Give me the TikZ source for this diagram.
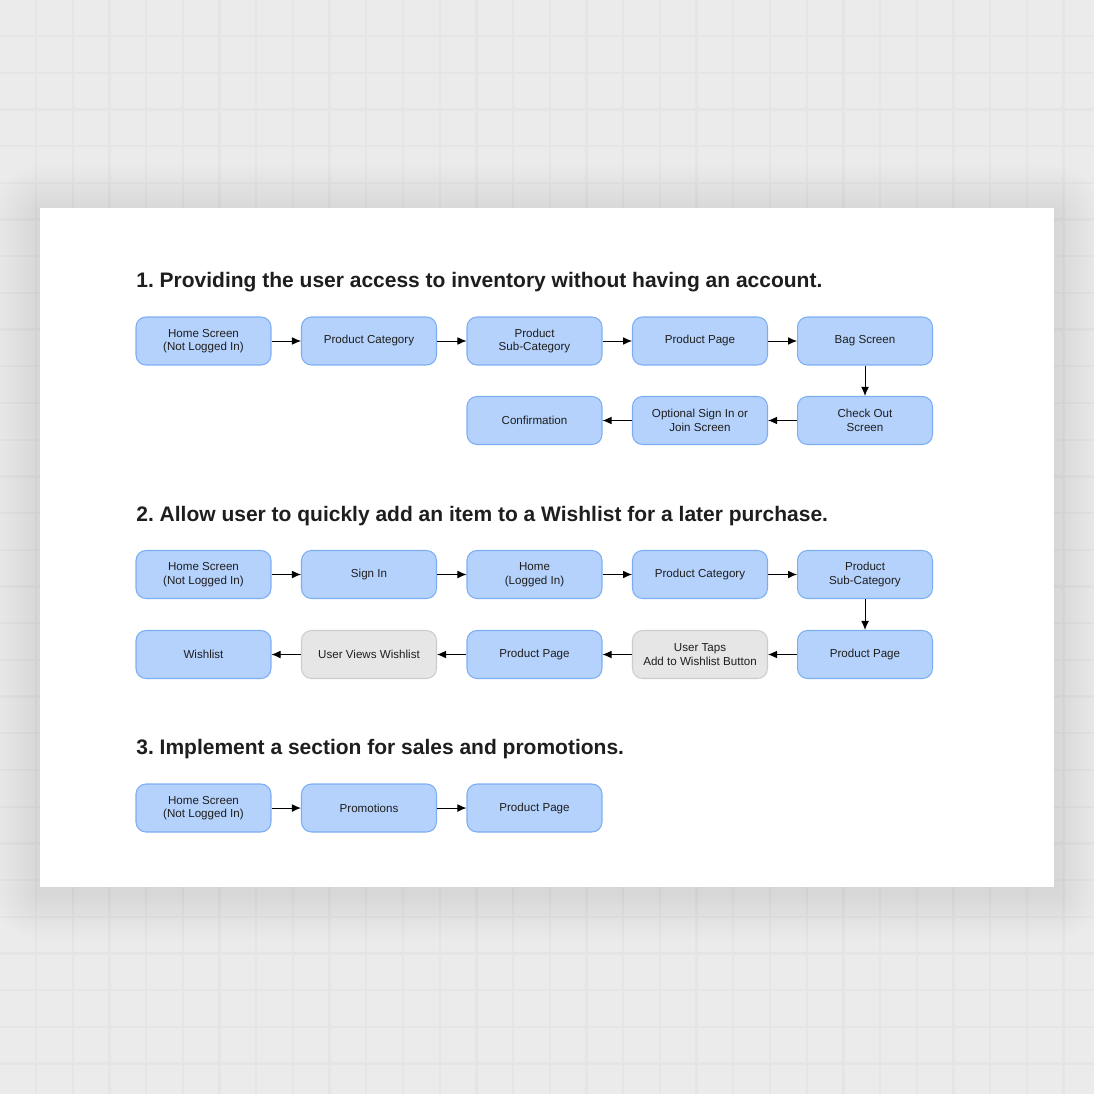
\documentclass[tikz,border=0pt]{standalone}
\usepackage{fontspec}
\setmainfont{Liberation Sans}
\usetikzlibrary{arrows.meta,positioning}
\definecolor{bgc}{HTML}{EBEBEB}
\definecolor{gridc}{HTML}{E5E5E5}
\definecolor{bluef}{HTML}{B5D2FC}
\definecolor{blued}{HTML}{7DAEF3}
\definecolor{greyf}{HTML}{E6E6E6}
\definecolor{greyd}{HTML}{CDCDCD}
\definecolor{txt}{HTML}{1E1E1E}
\tikzset{
  box/.style={draw=blued, fill=bluef, line width=0.6pt, rounded corners=0.2cm,
    minimum width=2.7cm, minimum height=0.96cm, inner sep=0pt, align=center,
    font=\fontsize{6.6}{7.7}\selectfont, text=txt},
  gbox/.style={box, draw=greyd, fill=greyf},
  heading/.style={anchor=west, font=\frenchspacing\fontsize{11.95}{13}\selectfont\bfseries, text=txt, inner sep=0pt},
  conn/.style={draw=black, line width=0.55pt, -{Latex[length=0.18cm,width=0.155cm]}},
}
\begin{document}
\begin{tikzpicture}[x=0.02cm,y=-0.02cm]
\useasboundingbox (0,0) rectangle (1094,1094);
\fill[bgc] (0,0) rectangle (1094,1094);
\foreach \i in {0,...,30} {
  \draw[gridc, line width=1.3pt] ({-0.7+36.7*\i},0) -- ({-0.7+36.7*\i},1094);
  \draw[gridc, line width=1.3pt] (0,{-0.7+36.7*\i}) -- (1094,{-0.7+36.7*\i});
}
\foreach \k in {1,...,20} {
  \fill[black, opacity=0.0028, rounded corners={\k*2.5*0.02cm}] ({40-\k*2.4},{208-\k*2.4+5}) rectangle ({1054+\k*2.4},{887+\k*2.4+5});
}
\fill[white] (40,208) rectangle (1054,887);

% headings
\node[heading] (h1) at (136,282) {1. Providing the user access to inventory without having an account.};
\node[heading] (h2) at (136,516) {2. Allow user to quickly add an item to a Wishlist for a later purchase.};
\node[heading] (h3) at (136,749) {3. Implement a section for sales and promotions.};

% flow 1
\node[box] (a1) at (203.5,341) {Home Screen\\(Not Logged In)};
\node[box] (a2) at (369,341) {Product Category};
\node[box] (a3) at (534.5,341) {Product\\Sub-Category};
\node[box] (a4) at (700,341) {Product Page};
\node[box] (a5) at (865,341) {Bag Screen};
\node[box] (a6) at (865,420.5) {Check Out\\Screen};
\node[box] (a7) at (700,420.5) {Optional Sign In or\\Join Screen};
\node[box] (a8) at (534.5,420.5) {Confirmation};
\draw[conn] (a1) -- (a2);
\draw[conn] (a2) -- (a3);
\draw[conn] (a3) -- (a4);
\draw[conn] (a4) -- (a5);
\draw[conn] (a5) -- (a6);
\draw[conn] (a6) -- (a7);
\draw[conn] (a7) -- (a8);

% flow 2
\node[box] (b1) at (203.5,574.5) {Home Screen\\(Not Logged In)};
\node[box] (b2) at (369,574.5) {Sign In};
\node[box] (b3) at (534.5,574.5) {Home\\(Logged In)};
\node[box] (b4) at (700,574.5) {Product Category};
\node[box] (b5) at (865,574.5) {Product\\Sub-Category};
\node[box] (b6) at (865,654.5) {Product Page};
\node[gbox] (b7) at (700,654.5) {User Taps\\Add to Wishlist Button};
\node[box] (b8) at (534.5,654.5) {Product Page};
\node[gbox] (b9) at (369,654.5) {User Views Wishlist};
\node[box] (b10) at (203.5,654.5) {Wishlist};
\draw[conn] (b1) -- (b2);
\draw[conn] (b2) -- (b3);
\draw[conn] (b3) -- (b4);
\draw[conn] (b4) -- (b5);
\draw[conn] (b5) -- (b6);
\draw[conn] (b6) -- (b7);
\draw[conn] (b7) -- (b8);
\draw[conn] (b8) -- (b9);
\draw[conn] (b9) -- (b10);

% flow 3
\node[box] (c1) at (203.5,808) {Home Screen\\(Not Logged In)};
\node[box] (c2) at (369,808) {Promotions};
\node[box] (c3) at (534.5,808) {Product Page};
\draw[conn] (c1) -- (c2);
\draw[conn] (c2) -- (c3);
\end{tikzpicture}
\end{document}
